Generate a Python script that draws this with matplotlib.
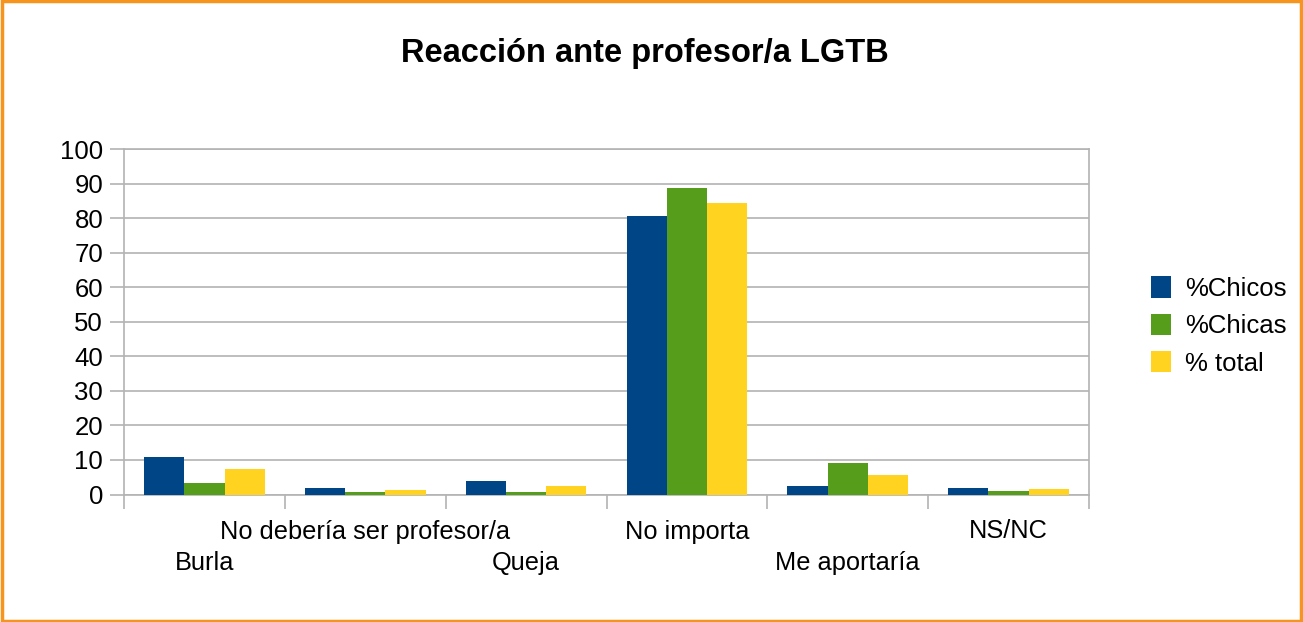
import numpy as np
import matplotlib.pyplot as plt
from matplotlib.patches import Rectangle

plt.rcParams['font.family'] = ['Liberation Sans', 'DejaVu Sans']

categorias = ['Burla', 'No debería ser profesor/a', 'Queja', 'No importa',
              'Me aportaría', 'NS/NC']
chicos = [10.9, 1.9, 3.9, 80.5, 2.5, 1.9]
chicas = [3.4, 0.6, 0.6, 88.6, 9.1, 1.1]
total = [7.4, 1.4, 2.5, 84.3, 5.7, 1.6]
series = ['%Chicos', '%Chicas', '% total']
colores = ['#004586', '#579d1c', '#ffd320']

fig = plt.figure(figsize=(13.03, 6.22), dpi=100)
ax = fig.add_axes([124/1303, 1-494.5/622, (1089-124)/1303, (494.5-149)/622])

x = np.arange(len(categorias))
w = 0.25
for i, (vals, lab, c) in enumerate(zip([chicos, chicas, total], series, colores)):
    ax.bar(x + (i-1)*w, vals, w, color=c, label=lab, zorder=3)

ax.set_xlim(-0.5, len(categorias)-0.5)
ax.set_ylim(0, 100)
ax.set_yticks(range(0, 101, 10))
ax.yaxis.grid(True, color='#b3b3b3', linewidth=1.2, zorder=0)
ax.tick_params(axis='y', length=10, color='#b3b3b3', width=1.2, labelsize=18.5, pad=5)

ax.set_xticks(x)
ax.set_xticklabels(categorias)
ax.set_xticks(np.arange(-0.5, len(categorias)), minor=True)
ax.tick_params(axis='x', which='major', length=0, labelsize=18.3)
ax.tick_params(axis='x', which='minor', length=10, color='#b3b3b3', width=1.2)
for i, t in enumerate(ax.xaxis.get_major_ticks()):
    t.set_pad(41 if i % 2 == 0 else 18)

for s in ax.spines.values():
    s.set_color('#b3b3b3')
    s.set_linewidth(1.2)

ax.legend(loc='center left', bbox_to_anchor=(1.04, 0.488), frameon=False,
          fontsize=18.5, handlelength=0.8, handleheight=0.9, handletextpad=0.55,
          labelspacing=0.5)

fig.text(0.495, 0.914, 'Reacción ante profesor/a LGTB', ha='center', va='center',
         fontsize=23.5, fontweight='bold')

fig.patches.append(Rectangle((0.0012, 0.002), 0.9976, 0.996, transform=fig.transFigure,
                             fill=False, edgecolor='#f7941d', linewidth=2.5))

fig.savefig('out.png', dpi=100)
